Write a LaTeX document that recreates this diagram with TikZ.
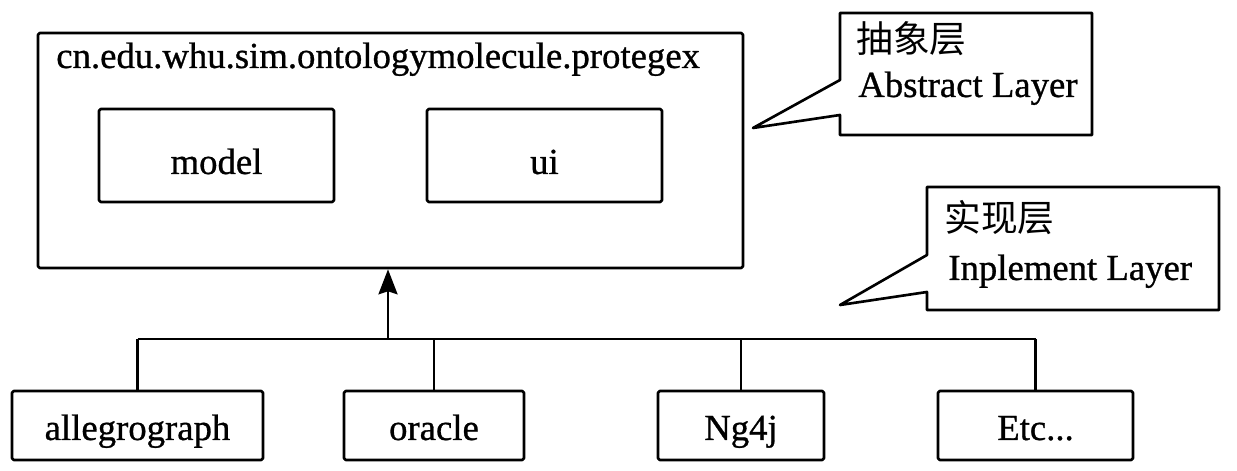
\documentclass[tikz,border=0pt]{standalone}
\usepackage{fontspec}
\setmainfont[FakeBold=0.8]{Liberation Serif}
\newfontfamily\cjkfont{Noto Sans CJK SC}
\usepackage{tikz}
\usetikzlibrary{arrows.meta, positioning, calc}

\tikzset{
  inbox/.style={draw, rounded corners=1pt, minimum width=4.70cm, minimum height=1.86cm, text height=0.86cm, text depth=0.12cm, inner sep=0pt},
  leaf/.style={draw, rounded corners=1pt, minimum height=1.38cm, text height=0.70cm, text depth=0.12cm, inner sep=0pt},
  note/.style={anchor=base west, inner sep=0pt}
}

\begin{document}
\begin{tikzpicture}[font=\fontsize{20.9}{25}\selectfont, line width=1.5pt, line join=round]
\useasboundingbox (0,0) rectangle (24.74,9.42);

\node[draw, rounded corners=1pt, minimum width=14.10cm, minimum height=4.70cm] (top) at (7.81,6.41) {};
\node[note] (pkg) at (1.10,8.06) {cn.edu.whu.sim.ontologymolecule.protegex};
\node[inbox] (model) at (4.33,6.31) {model};
\node[inbox] (ui) at (10.89,6.31) {ui};

\coordinate (bus) at (0,2.64);
\coordinate (hub) at (7.76,2.64);
\foreach \n/\x/\w/\t in {ag/2.75/5.02/allegrograph, orc/8.68/3.60/oracle, ngj/14.82/3.32/Ng4j, etc/20.71/3.90/{Etc.{}.{}.}} {
  \node[leaf, minimum width=\w cm] (\n) at (\x,0.91) {\t};
  \draw (\n.north) -- (\n.north |- bus);
}
\draw (ag.north |- bus) -- (etc.north |- bus);
\draw[-{Stealth[length=0.5cm, width=0.38cm, inset=0.06cm]}] (hub) -- (hub |- top.south);

\coordinate (tipA) at (15.06,6.86);
\draw (16.8,9.16) -- (21.84,9.16) -- (21.84,6.72) -- (16.8,6.72) -- (16.8,7.12) -- (tipA) -- (16.8,7.82) -- cycle;
\node[note] (abscn) at (17.10,8.36) {\cjkfont 抽象层};
\node[note] (absen) at (17.14,7.48) {Abstract Layer};

\coordinate (tipB) at (16.8,3.32);
\draw (18.54,5.68) -- (24.38,5.68) -- (24.38,3.22) -- (18.54,3.22) -- (18.54,3.58) -- (tipB) -- (18.54,4.32) -- cycle;
\node[note] (impcn) at (18.86,4.78) {\cjkfont 实现层};
\node[note] (impen) at (18.94,3.82) {Inplement Layer};
\end{tikzpicture}
\end{document}
